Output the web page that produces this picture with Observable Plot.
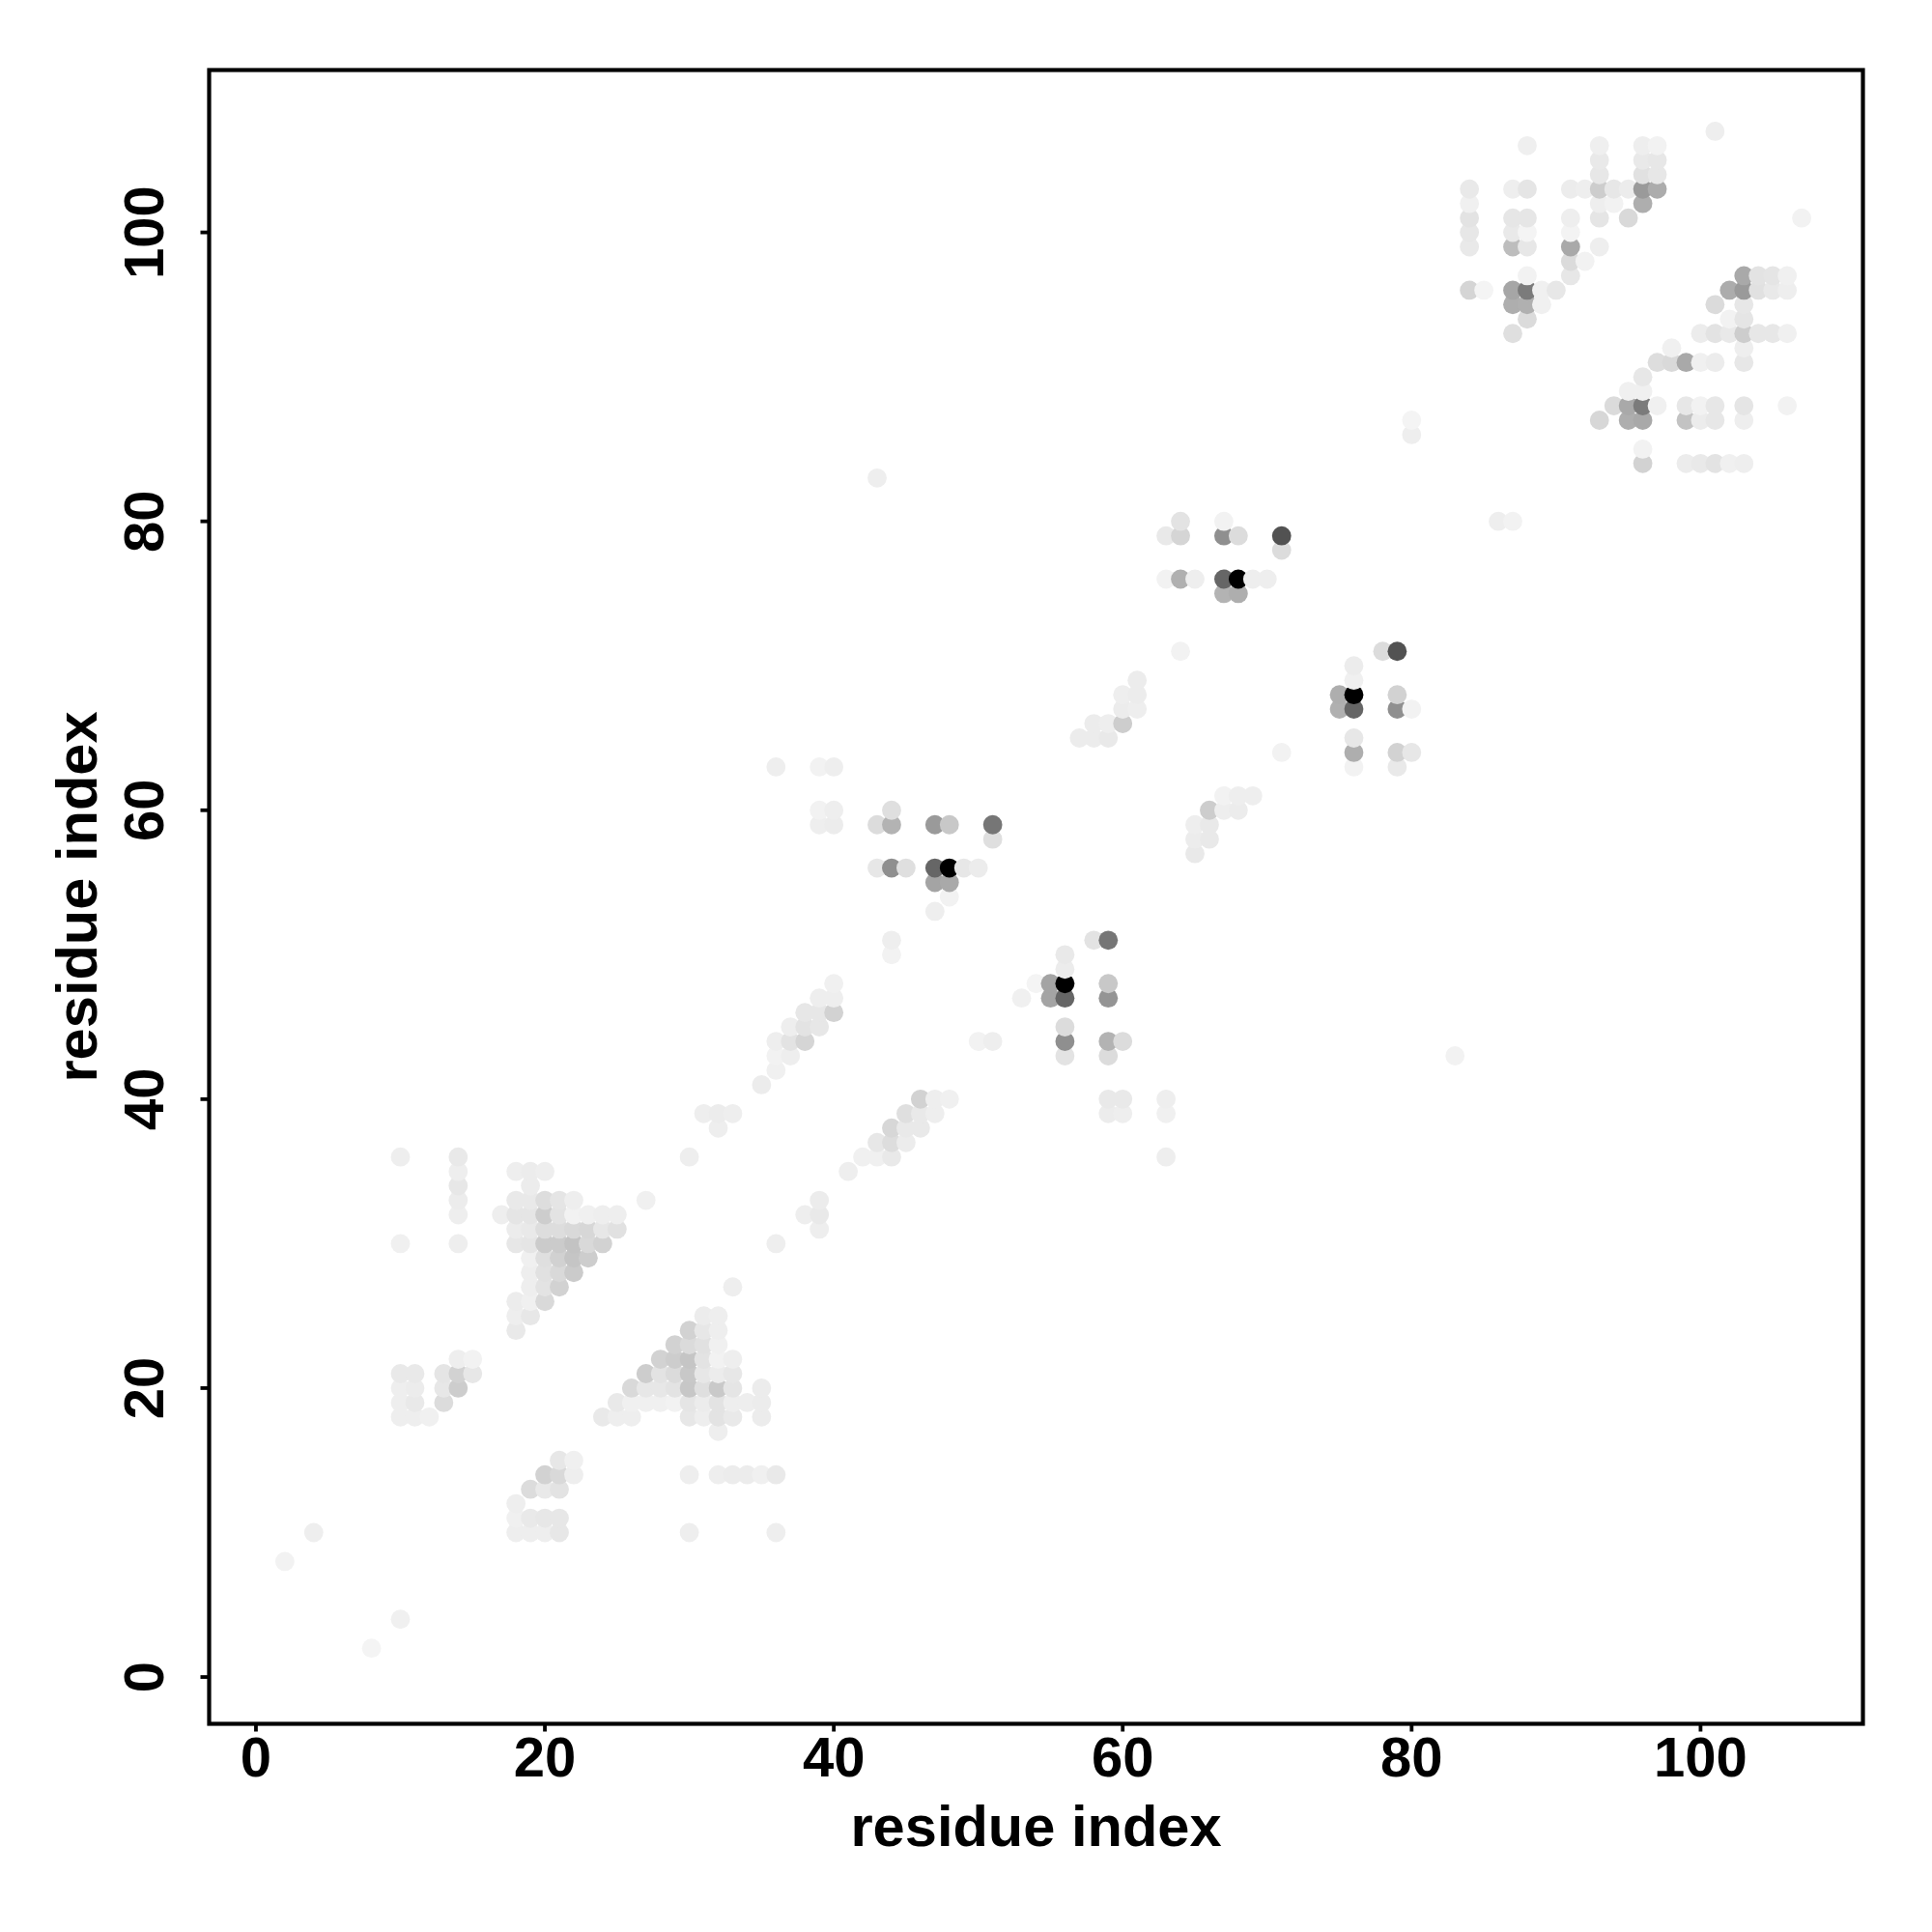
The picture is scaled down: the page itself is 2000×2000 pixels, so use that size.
<!DOCTYPE html>
<html>
<head>
<meta charset="utf-8">
<script src="https://cdn.jsdelivr.net/npm/d3@7"></script>
<script src="https://cdn.jsdelivr.net/npm/@observablehq/plot@0.6"></script>
<style>html,body{margin:0;padding:0;background:#fff}svg{display:block}</style>
</head>
<body>
<div id="chart"></div>
<script>
const axisLabel = "residue index";
const tickValues = [0, 20, 40, 60, 80, 100];
const rowY = [107,106,105,104,103,102,101,100,99,98,97,96,95,94,93,92,91,90,89,88,87,86,85,84,83,80,79,78,76,75,71,70,69,68,67,66,65,64,63,61,60,59,58,57,56,55,54,53,51,50,49,48,47,46,45,44,43,42,41,40,39,38,37,36,35,34,33,32,31,30,29,28,27,26,25,24,23,22,21,20,19,18,17,15,14,13,12,11,10,8,4,2];
const rowX = [
[101],
[88,93,96,97],
[93,96,97],
[93,96,97],
[84,87,88,91,92,93,94,95,96,97],
[84,93,94,96],
[84,87,88,91,93,95,107],
[84,87,88,91],
[84,87,88,91,93],
[91,92],
[88,91,103,104,105,106],
[84,85,87,88,89,90,102,103,104,105,106],
[87,88,89,101,103],
[88,102,103],
[87,100,101,102,103,104,105,106],
[98,103],
[97,98,99,100,101,103],
[96],
[95,96],
[94,95,96,97,99,100,101,103,106],
[80,93,95,96,99,100,101,103],
[80],
[96],
[96,99,100,101,102,103],
[43],
[64,67,86,87],
[63,64,67,68,71],
[71],
[63,64,65,67,68,69,70],
[67,68],
[64,78,79],
[76],
[61,76],
[60,61,75,76,79],
[60,61,75,76,79,80],
[58,59,60],
[57,58,59,76],
[71,76,79,80],
[36,39,40,76,79],
[67,68,69],
[39,40,44,66,67,68],
[39,40,43,44,47,48,51,65,66],
[51,65,66],
[65],
[43,44,45,47,48,49,50],
[47,48],
[48],
[47],
[44,58,59],
[44,56],
[56],
[40,54,55,56,59],
[39,40,53,55,56,59],
[38,39,40],
[37,38,39,56],
[36,37,38,50,51,56,59,60],
[36,37,56,59,83],
[36],
[35],
[46,47,48,59,60,63],
[31,32,33,45,46,47,59,60,63],
[32,44,45,46],
[43,44,45],
[10,14,30,42,43,44,63],
[14,18,19,20,41],
[14,19],
[14,18,19,20,21,22,27,39],
[14,17,18,19,20,21,22,23,24,25,38,39],
[18,19,20,21,22,23,24,25,39],
[10,14,18,19,20,21,22,23,24,36],
[19,20,21,22,23],
[19,20,21,22],
[19,20,21,33],
[18,19,20],
[18,19,31,32],
[18,30,31,32],
[29,30,31,32],
[14,15,28,29,30,31,32,33],
[10,11,13,14,15,27,28,29,30,31,32,33],
[10,11,13,14,26,27,28,29,30,31,32,33,35],
[10,11,13,25,26,27,28,29,30,31,32,33,34,35],
[10,11,12,24,25,26,30,31,32,33,35],
[32],
[21,22],
[20,21,22,30,32,33,34,35,36],
[19,20,21],
[18],
[18,19,20,21],
[4,18,19,20,21,30,36],
[2],
[10],
[8]
];
const rowShade = [
[232],
[233,233,232,236],
[228,228,226],
[226,220,226],
[228,232,224,230,232,200,226,230,150,168],
[234,232,236,170],
[222,225,225,232,224,212,236],
[226,228,238,237],
[228,185,226,165,232],
[214,236],
[236,226,165,222,224,234],
[208,238,162,120,234,226,168,150,220,228,232],
[170,172,234,214,226],
[214,236,224],
[218,230,222,228,200,226,226,234],
[234,232],
[216,212,165,234,230,226],
[226],
[234,234],
[214,165,120,234,226,236,226,224,236],
[238,210,170,165,190,230,226,232],
[232],
[236],
[205,230,228,222,234,232],
[232],
[222,236,232,236],
[228,208,140,215,80],
[215],
[236,172,232,100,0,232,232],
[175,170],
[236,215,80],
[230],
[230,234],
[232,230,170,0,205],
[230,232,172,100,140,236],
[230,232,200],
[230,230,228,226],
[236,170,205,226],
[232,236,232,236,228],
[236,232,232],
[236,232,218,200,232,230],
[232,230,215,175,150,195,115,232,228],
[218,230,228],
[228],
[226,140,218,100,0,226,230],
[160,165],
[236],
[232],
[232,222,115],
[236,228],
[230],
[234,238,160,0,195],
[232,232,234,160,100,145],
[226,226,205],
[232,222,226,215],
[232,222,208,236,232,140,175,215],
[236,232,222,215,236],
[234],
[230],
[205,232,234,228,228,232],
[232,230,232,218,228,232,230,232,234],
[232,210,228,228],
[226,216,230],
[232,228,232,234,234,228,232],
[232,232,230,232,232],
[226,230],
[230,228,228,216,224,232,234,230],
[232,232,224,224,200,222,236,234,232,232,232,228],
[230,228,216,216,212,210,226,220,232],
[234,232,226,224,198,198,190,212,205,232],
[234,218,204,192,200],
[232,220,212,198],
[232,222,205,232],
[230,234,212],
[232,226,230,232],
[228,205,226,232],
[205,214,220,234],
[232,236,205,200,192,222,236,232],
[228,228,224,205,226,200,222,214,195,226,230,226],
[232,230,226,200,212,226,226,222,194,218,196,224,230],
[232,228,215,228,234,234,234,236,224,230,222,232,232,230],
[232,232,234,228,232,232,226,232,222,228,230],
[232],
[226,234],
[205,212,232,232,232,230,230,234,228],
[215,228,222],
[232],
[234,228,226,226],
[232,232,232,232,226,232,232],
[236],
[234],
[238]
];

const cells = [];
rowY.forEach((y, r) => rowX[r].forEach((x, c) => cells.push({x, y, shade: rowShade[r][c]})));
cells.sort((a, b) => d3.ascending(a.x, b.x) || d3.ascending(a.y, b.y));

const font = {fontFamily: "'Liberation Sans', Arial, sans-serif", fontWeight: "bold"};
const plot = Plot.plot({
  width: 2000,
  height: 2000,
  marginLeft: 216,
  marginRight: 72,
  marginTop: 72,
  marginBottom: 216,
  style: {background: "#fff", color: "#000"},
  x: {domain: [-3.24, 111.24]},
  y: {domain: [-3.24, 111.24]},
  color: {type: "linear", domain: [0, 249], range: ["#000000", "#ffffff"]},
  marks: [
    Plot.dot(cells, {x: "x", y: "y", r: 9.9, fill: "shade", stroke: "none"}),
    Plot.frame({stroke: "#000", strokeWidth: 4.2}),
    Plot.axisX({
      ...font, fontSize: 58, ticks: tickValues, tickFormat: d => String(d), tickSize: 8.5, tickPadding: 4.5,
      strokeWidth: 3.8, label: null, marginBottom: 216
    }),
    Plot.axisY({
      ...font, fontSize: 58, ticks: tickValues, tickFormat: d => String(d), tickSize: 8.5, tickPadding: 39.5, tickRotate: -90,
      textAnchor: "middle", strokeWidth: 3.8, label: null, marginLeft: 216
    }),
    Plot.text([axisLabel], {
      ...font, fontSize: 59.6, text: d => d, frameAnchor: "bottom", lineAnchor: "middle", dy: 107
    }),
    Plot.text([axisLabel], {
      ...font, fontSize: 59.6, text: d => d, frameAnchor: "left", textAnchor: "middle", lineAnchor: "middle", rotate: -90, dx: -136
    })
  ]
});
document.getElementById("chart").appendChild(plot);
</script>
</body>
</html>
